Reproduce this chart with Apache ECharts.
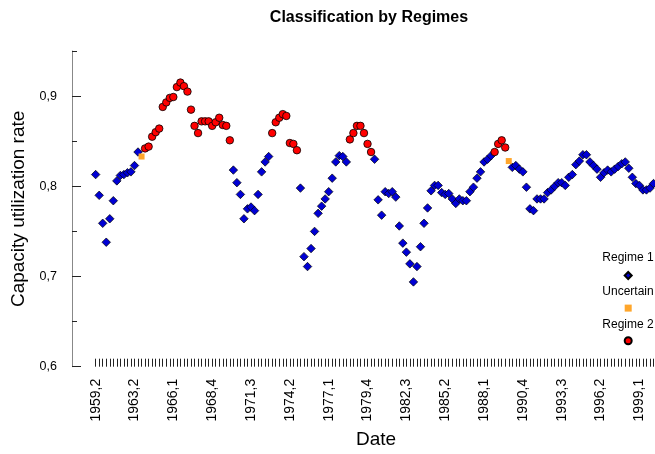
<!DOCTYPE html>
<html>
<head>
<meta charset="utf-8">
<title>Classification by Regimes</title>
<script src="https://cdn.jsdelivr.net/npm/echarts@6.0.0/dist/echarts.min.js"></script>
<style>
html,body{margin:0;padding:0;background:#ffffff;}
#main{width:655px;height:454px;}
</style>
</head>
<body>
<div id="main"></div>
<script>
// capacity utilization, one value per quarter
var capacity = [
    0.813,0.790,0.759,0.738,0.764,0.784,0.806,0.812,0.813,0.815,
    0.816,0.823,0.838,0.833,0.842,0.844,0.855,0.860,0.864,0.888,
    0.893,0.898,0.899,0.910,0.915,0.911,0.905,0.885,0.867,0.859,
    0.872,0.872,0.872,0.867,0.871,0.876,0.868,0.867,0.851,0.818,
    0.804,0.791,0.764,0.775,0.777,0.773,0.791,0.816,0.827,0.833,
    0.859,0.871,0.876,0.880,0.878,0.848,0.847,0.840,0.798,0.722,
    0.711,0.731,0.750,0.770,0.778,0.786,0.794,0.809,0.827,0.834,
    0.833,0.827,0.852,0.859,0.867,0.867,0.859,0.847,0.838,0.830,
    0.785,0.768,0.794,0.792,0.794,0.788,0.756,0.737,0.727,0.714,
    0.694,0.711,0.733,0.759,0.776,0.795,0.801,0.801,0.793,0.791,
    0.792,0.786,0.781,0.786,0.784,0.784,0.794,0.799,0.809,0.816,
    0.827,0.830,0.834,0.838,0.847,0.851,0.843,0.828,0.821,0.823,
    0.819,0.816,0.799,0.775,0.773,0.786,0.786,0.786,0.793,0.796,
    0.800,0.804,0.804,0.801,0.810,0.813,0.824,0.828,0.835,0.835,
    0.827,0.823,0.819,0.810,0.815,0.818,0.816,0.819,0.822,0.825,
    0.827,0.820,0.810,0.803,0.801,0.796,0.796,0.798,0.803
];
// regime of each quarter: 1 = Regime 1, 0 = Uncertain, 2 = Regime 2
var regime = [
    1,1,1,1,1,1,1,1,1,1,
    1,1,1,0,2,2,2,2,2,2,
    2,2,2,2,2,2,2,2,2,2,
    2,2,2,2,2,2,2,2,2,1,
    1,1,1,1,1,1,1,1,1,1,
    2,2,2,2,2,2,2,2,1,1,
    1,1,1,1,1,1,1,1,1,1,
    1,1,2,2,2,2,2,2,2,1,
    1,1,1,1,1,1,1,1,1,1,
    1,1,1,1,1,1,1,1,1,1,
    1,1,1,1,1,1,1,1,1,1,
    1,1,1,2,2,2,2,0,1,1,
    1,1,1,1,1,1,1,1,1,1,
    1,1,1,1,1,1,1,1,1,1,
    1,1,1,1,1,1,1,1,1,1,
    1,1,1,1,1,1,1,1,1
];
// date labels, one every 11 quarters
var tickLabels = ['1959,2','1963,2','1966,1','1968,4','1971,3','1974,2','1977,1',
    '1979,4','1982,3','1985,2','1988,1','1990,4','1993,3','1996,2','1999,1'];
var labelStep = 11;
var yTicks = [0.6, 0.7, 0.8, 0.9];
var yMinorTicks = [0.65, 0.75, 0.85, 0.95];
var regimeNames = ['Regime 1', 'Uncertain', 'Regime 2'];
var regimeCodes = [1, 0, 2];

var font = "'Liberation Sans', Arial, sans-serif";

var myChart = echarts.init(document.getElementById("main"));
myChart.setOption(getOption());

// points of one regime as [quarter index, value]
function pointsFor(code){
    var pts = [];
    capacity.forEach(function(v, i){
        if(regime[i] == code){
            pts.push([i, v]);
        }
    });
    return pts;
}

function getOption(){
    var quarterTicks = [], labelTicks = [];
    for(var i = 0; i <= 165; i++){
        quarterTicks.push(i);
    }
    tickLabels.forEach(function(t, k){
        labelTicks.push(k * labelStep);
    });

    var styles = [
        {symbol:'diamond', size:8.5, color:'#0000D4', border:'#000000', bw:0.7},
        {symbol:'rect', size:6, color:'#FFA62B', border:'#FFA62B', bw:0},
        {symbol:'circle', size:7.5, color:'#FF0000', border:'#000000', bw:0.8}
    ];
    var series = regimeNames.map(function(name, k){
        return {
            name: name,
            type: 'scatter',
            symbol: styles[k].symbol,
            symbolSize: styles[k].size,
            data: pointsFor(regimeCodes[k]),
            itemStyle: {
                color: styles[k].color,
                borderColor: styles[k].border,
                borderWidth: styles[k].bw,
                opacity: 1
            }
        };
    });

    // legend text sits above each icon
    var legendTextY = [257.5, 292, 325];
    var legendText = regimeNames.map(function(name, k){
        return {
            type: 'text',
            x: 628,
            y: legendTextY[k],
            style: {
                text: name,
                fill: '#000',
                fontSize: 12,
                fontFamily: font,
                align: 'center',
                verticalAlign: 'middle'
            }
        };
    });

    var option = {
        animation: false,
        backgroundColor: '#ffffff',
        title: {
            text: 'Classification by Regimes',
            left: 364,
            top: 5,
            textAlign: 'center',
            textStyle: {fontSize: 16, fontWeight: 'bold', color: '#000', fontFamily: font}
        },
        grid: {left: 72, top: 51, right: -25, bottom: 87.3, outerBoundsMode: 'none', containLabel: false},
        legend: {
            orient: 'vertical',
            left: 623.7,
            top: 271,
            padding: 0,
            itemWidth: 7,
            itemHeight: 7,
            itemGap: 24.6,
            formatter: function(){ return ''; },
            data: regimeNames
        },
        graphic: legendText,
        xAxis: {
            type: 'value',
            min: -6.7,
            max: 165.5,
            name: 'Date',
            nameLocation: 'middle',
            nameGap: 64,
            nameTextStyle: {fontSize: 19, color: '#000', fontFamily: font},
            axisLine: {show: false, onZero: false},
            axisTick: {
                show: true, inside: true, length: 8,
                customValues: quarterTicks,
                lineStyle: {color: '#222'}
            },
            axisLabel: {
                rotate: 90, margin: 12, fontSize: 14, color: '#000', fontFamily: font,
                padding: [11, 0, 0, 0],
                customValues: labelTicks,
                formatter: function(v){ return tickLabels[Math.round(v / labelStep)]; }
            },
            splitLine: {show: false}
        },
        yAxis: [{
            type: 'value',
            position: 'left',
            min: 0.6,
            max: 0.95,
            name: 'Capacity utilization rate',
            nameLocation: 'middle',
            nameGap: 36,
            nameTextStyle: {fontSize: 19, color: '#000', fontFamily: font},
            axisLine: {show: true, onZero: false, lineStyle: {color: '#888'}},
            axisTick: {
                show: true, inside: true, length: 9,
                customValues: yTicks,
                lineStyle: {color: '#222'}
            },
            axisLabel: {
                margin: 15, fontSize: 12.5, color: '#000', fontFamily: font,
                customValues: yTicks,
                formatter: function(v){ return v.toFixed(1).replace('.', ','); }
            },
            splitLine: {show: false}
        }, {
            // minor ticks
            type: 'value',
            position: 'left',
            min: 0.6,
            max: 0.95,
            axisLine: {show: false, onZero: false},
            axisTick: {
                show: true, inside: true, length: 5,
                customValues: yMinorTicks,
                lineStyle: {color: '#222'}
            },
            axisLabel: {show: false},
            splitLine: {show: false}
        }],
        series: series
    };
    return option;
}
</script>
</body>
</html>
